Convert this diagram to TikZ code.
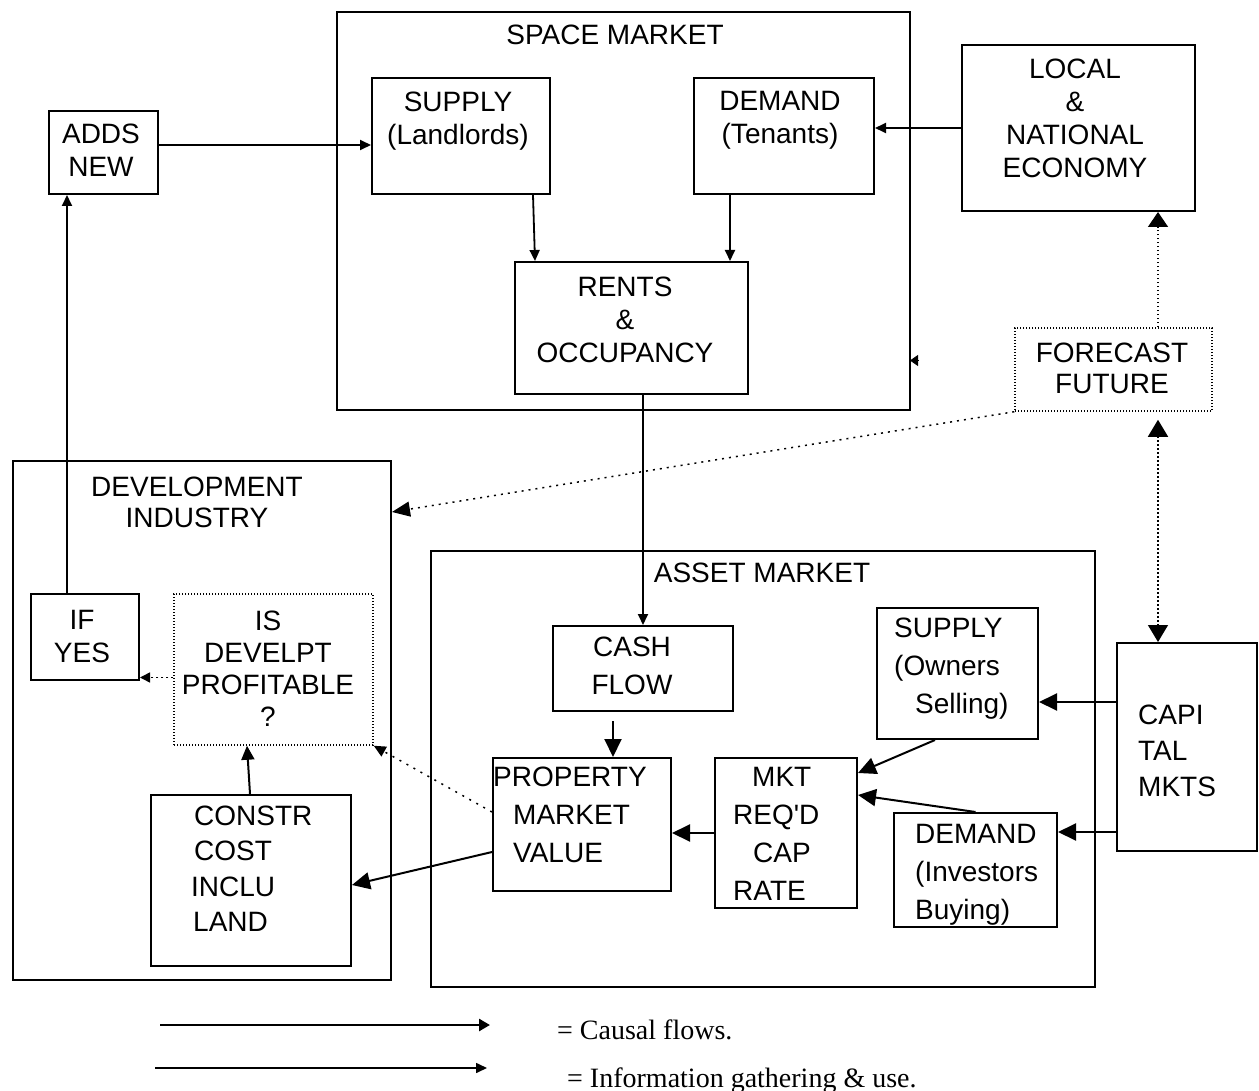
\documentclass[tikz,border=0pt]{standalone}
\usepackage{fontspec}
\setmainfont{Liberation Sans}
\newfontfamily\legendfont{Liberation Serif}
\usetikzlibrary{arrows.meta,fit,calc}
\begin{document}
\begin{tikzpicture}[x=1pt,y=-1pt,
  box/.style={draw, line width=2pt, inner sep=0pt},
  dbox/.style={draw, line width=1.5pt, dash pattern=on 1.4pt off 1.6pt, inner sep=0pt},
  txt/.style={inner sep=0pt, align=center, anchor=north, font=\fontsize{28}{33}\selectfont},
  ltxt/.style={txt, align=left, anchor=north west},
  wide/.style={font=\fontsize{28}{38}\selectfont},
  arr/.style={line width=2pt, -{Triangle[length=18pt,width=17pt]}},
  sarr/.style={line width=1.8pt, -{Triangle[length=11pt,width=10pt]}},
  darr/.style={line width=1.5pt, dash pattern=on 1.5pt off 2.5pt, -{Triangle[length=15pt,width=20pt]}},
  sdarr/.style={line width=1.5pt, dash pattern=on 2pt off 3pt, -{Triangle[length=10pt,width=10pt]}},
  legtxt/.style={inner sep=0pt, anchor=base west, font=\legendfont\fontsize{28}{33}\selectfont}]
\useasboundingbox (0,0) rectangle (1259,1091);

% space market
\node[box, fit={(337,12) (910,410)}] (sm) {};
\node[txt] (smt) at (615,24.5) {SPACE MARKET};
\node[box, fit={(372,78) (550,194)}] (sup) {};
\node[txt] (supt) at (458,91.5) {SUPPLY\\(Landlords)};
\node[box, fit={(694,78) (874,194)}] (dem) {};
\node[txt] (demt) at (780,91.5) {DEMAND\\(Tenants)};
\node[box, fit={(515,262) (748,394)}] (rent) {};
\node[txt] (rentt) at (625,276.5) {RENTS\\\&\\OCCUPANCY};

\node[box, fit={(49,111) (158,194)}] (adds) {};
\node[txt] (addst) at (101,123.5) {ADDS\\NEW};
\node[box, fit={(962,45) (1195,211)}] (loc) {};
\node[txt] (loct) at (1075,58.5) {LOCAL\\\&\\NATIONAL\\ECONOMY};
\node[dbox, fit={(1015,328) (1212,411)}] (fc) {};
\node[txt, font=\fontsize{28}{31}\selectfont] (fct) at (1112,342.5) {FORECAST\\FUTURE};

% development industry
\node[box, fit={(13,461) (391,980)}] (dev) {};
\node[txt, font=\fontsize{28}{31}\selectfont] (devt) at (197,476.5) {DEVELOPMENT\\INDUSTRY};
\node[box, fit={(31,594) (139,680)}] (ify) {};
\node[txt] (ifyt) at (82,610.5) {IF\\YES};
\node[dbox, fit={(174,594) (373,745)}] (is) {};
\node[txt, font=\fontsize{28}{32}\selectfont] (ist) at (268,610.5) {IS\\DEVELPT\\PROFITABLE\\?};
\node[box, fit={(151,795) (351,966)}] (con) {};
\node[ltxt, font=\fontsize{28}{35.5}\selectfont] (cont) at (191,805.5) {\hspace*{3pt}CONSTR\\\hspace*{3pt}COST\\INCLU\\\hspace*{2pt}LAND};

% asset market
\node[box, fit={(431,551) (1095,987)}] (am) {};
\node[txt] (amt) at (762,562.5) {ASSET MARKET};
\node[box, fit={(553,626) (733,711)}] (cf) {};
\node[txt, wide] (cft) at (632,636.5) {CASH\\FLOW};
\node[box, fit={(493,758) (671,891)}] (pmv) {};
\node[ltxt, wide] (pmvt) at (513,766.5) {\hspace*{-20pt}PROPERTY\\MARKET\\VALUE};
\node[box, fit={(715,758) (857,908)}] (mkt) {};
\node[ltxt, wide] (mktt) at (733,767.5) {\hspace*{19pt}MKT\\REQ\textquotesingle D\\\hspace*{20pt}CAP\\RATE};
\node[box, fit={(877,608) (1038,739)}] (so) {};
\node[ltxt, wide] (sot) at (894,617.5) {SUPPLY\\(Owners\\\hspace*{21pt}Selling)};
\node[box, fit={(894,813) (1057,927)}] (di) {};
\node[ltxt, wide] (dit) at (915,824.5) {DEMAND\\(Investors\\Buying)};
\node[box, fit={(1117,643) (1257,851)}] (cap) {};
\node[ltxt, font=\fontsize{28}{36}\selectfont] (capt) at (1138,704.5) {CAPI\\TAL\\MKTS};

% connectors in the space market
\draw[sarr] ([xshift=72pt]sup.south) -- ([xshift=-96.5pt]rent.north);
\draw[sarr] ([xshift=-54pt]dem.south) -- ([xshift=98.5pt]rent.north);
\draw[sarr] ([yshift=7.5pt]adds.east) -- ([yshift=7.5pt]adds.east -| sup.west);
\draw[sarr] (loc.west) -- (loc.west -| dem.east);
\coordinate (tk1) at (918,360.5);
\coordinate (tk2) at (910,360.5);
\draw[line width=0.8pt, -{Triangle[length=8pt,width=11pt]}] (tk1) -- (tk2);

% forecast links
\coordinate (lx) at (1158,0);
\draw[darr] (fc.north -| lx) -- (loc.south -| lx);
\draw[line width=1.5pt, dash pattern=on 1.5pt off 2.5pt, {Triangle[length=17pt,width=20pt]}-{Triangle[length=17pt,width=20pt]}] ($(fc.south -| lx)+(0,8)$) -- (cap.north -| lx);
\draw[line width=1.5pt, dash pattern=on 2pt off 5pt, -{Triangle[length=18pt,width=15pt]}] (fc.south west) -- ([yshift=208.5pt]dev.east);

% development
\draw[sarr] ([xshift=-18pt]ify.north) -- ([xshift=-18pt]ify.north |- adds.south);
\draw[sdarr] ([yshift=-8pt]is.west) -- ([yshift=-8pt]is.west -| ify.east);
\draw[line width=2pt, -{Triangle[length=14pt,width=13pt]}] ([xshift=-1pt]con.north) -- ([xshift=-26.5pt]is.south);
\draw[line width=1.5pt, dash pattern=on 2pt off 6pt, -{Triangle[length=12pt,width=11pt]}] ([yshift=12.5pt]pmv.west) -- (is.south east);
\draw[arr] ([yshift=-27.5pt]pmv.west) -- ([yshift=-4.5pt]con.east);

% asset market
\draw[sarr] (rent.south -| cf.north) -- (cf.north);
\draw[arr, shorten <=9pt] ([xshift=-30pt]cf.south) -- ([xshift=-30pt]cf.south |- pmv.north);
\draw[arr] (mkt.west) -- (mkt.west -| pmv.east);
\draw[arr] ([xshift=-22.5pt]so.south) -- ([yshift=60pt]mkt.east);
\draw[arr] (di.north) -- ([yshift=38pt]mkt.east);
\draw[arr] ([yshift=45pt]cap.west) -- ([yshift=45pt]cap.west -| so.east);
\draw[arr] ([yshift=-85pt]cap.west) -- ([yshift=-85pt]cap.west -| di.east);

% legend
\coordinate (l1a) at (160,1025);
\coordinate (l1b) at (490,1025);
\coordinate (l2a) at (155,1068);
\coordinate (l2b) at (487,1068);
\draw[line width=2.6pt, -{Triangle[length=11pt,width=12pt]}] (l1a) -- (l1b);
\draw[line width=1.6pt, -{Triangle[length=11pt,width=10pt]}] (l2a) -- (l2b);
\node[legtxt] (lg1) at (557,1039) {= Causal flows.};
\node[legtxt] (lg2) at (567,1087) {= Information gathering\ \& use.};
\end{tikzpicture}
\end{document}
